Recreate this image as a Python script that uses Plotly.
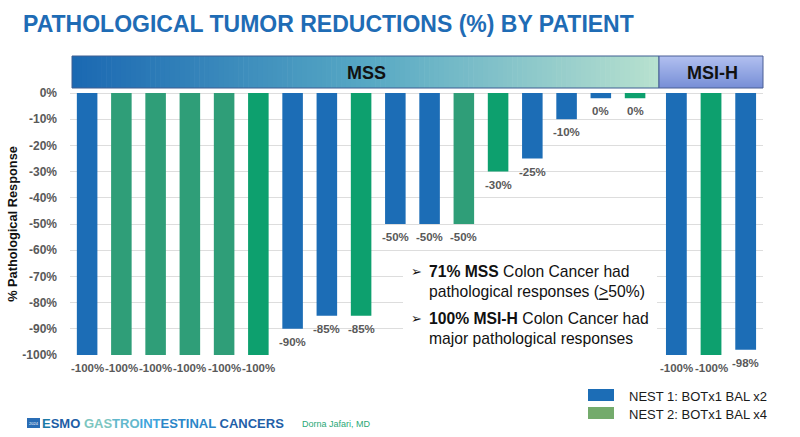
import plotly.graph_objects as go

# ---------------- data ----------------
mss_patients = ["M1", "M2", "M3", "M4", "M5", "M6", "M7", "M8", "M9", "M10",
                "M11", "M12", "M13", "M14", "M15", "M16", "M17"]
mss_values = [-100, -100, -100, -100, -100, -100, -90, -85, -85, -50,
              -50, -50, -30, -25, -10, -2, -2]
mss_labels = ["-100%", "-100%", "-100%", "-100%", "-100%", "-100%", "-90%", "-85%", "-85%", "-50%",
              "-50%", "-50%", "-30%", "-25%", "-10%", "0%", "0%"]
mss_cohort = ["NEST 1", "NEST 2", "NEST 2", "NEST 2", "NEST 2", "NEST 2", "NEST 1", "NEST 1", "NEST 2", "NEST 1",
              "NEST 1", "NEST 2", "NEST 2", "NEST 1", "NEST 1", "NEST 1", "NEST 2"]

msih_patients = ["H1", "H2", "H3"]
msih_values = [-100, -100, -98]
msih_labels = ["-100%", "-100%", "-98%"]
msih_cohort = ["NEST 1", "NEST 2", "NEST 1"]

y_ticks = [0, -10, -20, -30, -40, -50, -60, -70, -80, -90, -100]
y_tick_text = ["0%", "-10%", "-20%", "-30%", "-40%", "-50%", "-60%", "-70%", "-80%", "-90%", "-100%"]

legend_names = ["NEST 1: BOTx1 BAL x2", "NEST 2: BOTx1 BAL x4"]

# ---------------- styles ----------------
BLUE = "#1c6db6"
GREEN_A = "#2f9e78"
GREEN_B = "#0da06e"
mss_colors = [BLUE, GREEN_A, GREEN_A, GREEN_A, GREEN_A, GREEN_B, BLUE, BLUE, GREEN_B, BLUE,
              BLUE, GREEN_A, GREEN_B, BLUE, BLUE, BLUE, GREEN_B]
msih_colors = [BLUE, GREEN_B, BLUE]
legend_colors = [BLUE, "#74ab6c"]

SANS = "Liberation Sans, Arial, sans-serif"
GRAY = "#595959"

W, H = 800, 437
PL, PR, PT, PB = 70, 763, 93, 355


def px(x):
    return (x - PL) / (PR - PL)


def py(y):
    return (PB - y) / (PB - PT)


fig = go.Figure()
annotations = []
shapes = []

for xs, ys, lab, cols, ax in ((mss_patients, mss_values, mss_labels, mss_colors, "x"),
                              (msih_patients, msih_values, msih_labels, msih_colors, "x2")):
    fig.add_trace(go.Bar(
        x=xs, y=ys, cliponaxis=False,
        marker=dict(color=cols, line=dict(width=0)),
        xaxis=ax, yaxis="y", showlegend=False, hoverinfo="skip",
    ))
    # value labels beneath each bar end
    for xv, yv, t in zip(xs, ys, lab):
        annotations.append(dict(text="<b>%s</b>" % t, x=xv, y=yv, xref=ax, yref="y",
                                xanchor="center", yanchor="middle", yshift=-13,
                                showarrow=False,
                                font=dict(family=SANS, size=11.5, color=GRAY)))


def ann(text, x, y, size, color="#111111", family=SANS, xanchor="center", **kw):
    annotations.append(dict(text=text, x=px(x), y=py(y), xref="paper", yref="paper",
                            xanchor=xanchor, yanchor="middle", showarrow=False,
                            font=dict(family=family, size=size, color=color), **kw))


def interp(c0, c1, t):
    return tuple(round(a + (b - a) * t) for a, b in zip(c0, c1))


# MSS gradient header
stops = [(0.0, (27, 104, 178)), (0.5, (86, 168, 196)), (1.0, (184, 225, 207))]
x0h, x1h, y0h, y1h = 72, 659, 56, 88
N = 120
for i in range(N):
    t = (i + 0.5) / N
    for j in range(len(stops) - 1):
        if stops[j][0] <= t <= stops[j + 1][0]:
            tt = (t - stops[j][0]) / (stops[j + 1][0] - stops[j][0])
            c = interp(stops[j][1], stops[j + 1][1], tt)
            break
    xa = x0h + (x1h - x0h) * i / N
    xb = x0h + (x1h - x0h) * (i + 1) / N + 0.6
    shapes.append(dict(type="rect", xref="paper", yref="paper",
                       x0=px(xa), x1=px(min(xb, x1h)), y0=py(y1h), y1=py(y0h),
                       fillcolor="rgb(%d,%d,%d)" % c, line=dict(width=0), layer="above"))
shapes.append(dict(type="rect", xref="paper", yref="paper",
                   x0=px(x0h), x1=px(x1h), y0=py(y1h), y1=py(y0h),
                   fillcolor="rgba(0,0,0,0)", line=dict(color="#3e5f92", width=1), layer="above"))

# MSI-H header (vertical gradient)
mx0, mx1 = 659, 763
M = 32
for i in range(M):
    t = (i + 0.5) / M
    c = interp((178, 192, 240), (118, 142, 214), t)
    ya = y0h + (y1h - y0h) * i / M
    yb = y0h + (y1h - y0h) * (i + 1) / M + 0.6
    shapes.append(dict(type="rect", xref="paper", yref="paper",
                       x0=px(mx0), x1=px(mx1), y0=py(min(yb, y1h)), y1=py(ya),
                       fillcolor="rgb(%d,%d,%d)" % c, line=dict(width=0), layer="above"))
shapes.append(dict(type="rect", xref="paper", yref="paper",
                   x0=px(mx0), x1=px(mx1), y0=py(y1h), y1=py(y0h),
                   fillcolor="rgba(0,0,0,0)", line=dict(color="#4a5f95", width=1), layer="above"))

ann("<b>MSS</b>", 366, 73, 18)
ann("<b>MSI-H</b>", 712, 73, 18)

# Title
ann("<b>PATHOLOGICAL TUMOR REDUCTIONS (%) BY PATIENT</b>", 21, 24, 23,
    color="#1f6cb5", xanchor="left")

# Text box
shapes.append(dict(type="rect", xref="paper", yref="paper",
                   x0=px(403), x1=px(657), y0=py(360), y1=py(256),
                   fillcolor="white", line=dict(width=0), layer="above"))
for yc in (271, 318):
    ann("➢", 416, yc, 13, family="DejaVu Sans")
ann("<b>71% MSS</b> Colon Cancer had<br>pathological responses (<u>&gt;</u>50%)",
    427, 281, 15.7, xanchor="left", align="left")
ann("<b>100% MSI-H</b> Colon Cancer had<br>major pathological responses",
    427, 328.5, 15.7, xanchor="left", align="left")

# Legend
for k, (name, col) in enumerate(zip(legend_names, legend_colors)):
    ytop = 389 + 18 * k
    shapes.append(dict(type="rect", xref="paper", yref="paper",
                       x0=px(588), x1=px(614), y0=py(ytop + 12), y1=py(ytop),
                       fillcolor=col, line=dict(width=0), layer="above"))
    ann(name, 627, ytop + 7, 13, color="#1a1a1a", xanchor="left")

# Footer logo
shapes.append(dict(type="rect", xref="paper", yref="paper",
                   x0=px(27), x1=px(40), y0=py(428), y1=py(418),
                   fillcolor="#2a6db5", line=dict(width=0), layer="above"))
ann("2024", 33.5, 423.5, 4, color="white")
footer = ("<b><span style='color:#1b7aa6'>E</span><span style='color:#1d5ea6'>SMO</span> "
          "<span style='color:#7cc6c0'>GAS</span><span style='color:#62b8cc'>TRO</span>"
          "<span style='color:#3fa4dc'>INT</span><span style='color:#2a86c8'>ESTINAL</span> "
          "<span style='color:#1f5fa8'>CANCERS</span></b>")
ann(footer, 40, 423, 13, xanchor="left")
ann("Dorna Jafari, MD", 300, 424, 9, color="#2aa876", xanchor="left")

fig.update_layout(
    width=W, height=H,
    margin=dict(l=PL, r=W - PR, t=PT, b=H - PB, pad=0, autoexpand=False),
    paper_bgcolor="white", plot_bgcolor="white",
    bargap=0.4, barmode="group",
    shapes=shapes, annotations=annotations,
    xaxis=dict(domain=[0, 0.85], range=[-0.5, 16.7], showticklabels=False, showgrid=False,
               zeroline=False, showline=False, ticks="", categoryorder="array",
               categoryarray=mss_patients, fixedrange=True, automargin=False),
    xaxis2=dict(domain=[0.85, 1], range=[-0.5, 2.5], showticklabels=False, showgrid=False,
                zeroline=False, showline=False, ticks="", anchor="y", categoryorder="array",
                categoryarray=msih_patients, fixedrange=True, automargin=False),
    yaxis=dict(range=[-100, 0], tickvals=y_ticks, ticktext=y_tick_text,
               showgrid=True, gridcolor="#dddddd", gridwidth=1,
               zeroline=True, zerolinecolor="#dddddd", zerolinewidth=1,
               showline=False, ticks="", ticklabelstandoff=12, automargin=False,
               tickfont=dict(family=SANS, size=12, color=GRAY, weight="bold"),
               title=dict(text="% Pathological Response", standoff=1,
                          font=dict(family=SANS, size=12.8, color="#111111", weight="bold")),
               fixedrange=True),
    showlegend=False,
)

fig.write_html("out.html")
